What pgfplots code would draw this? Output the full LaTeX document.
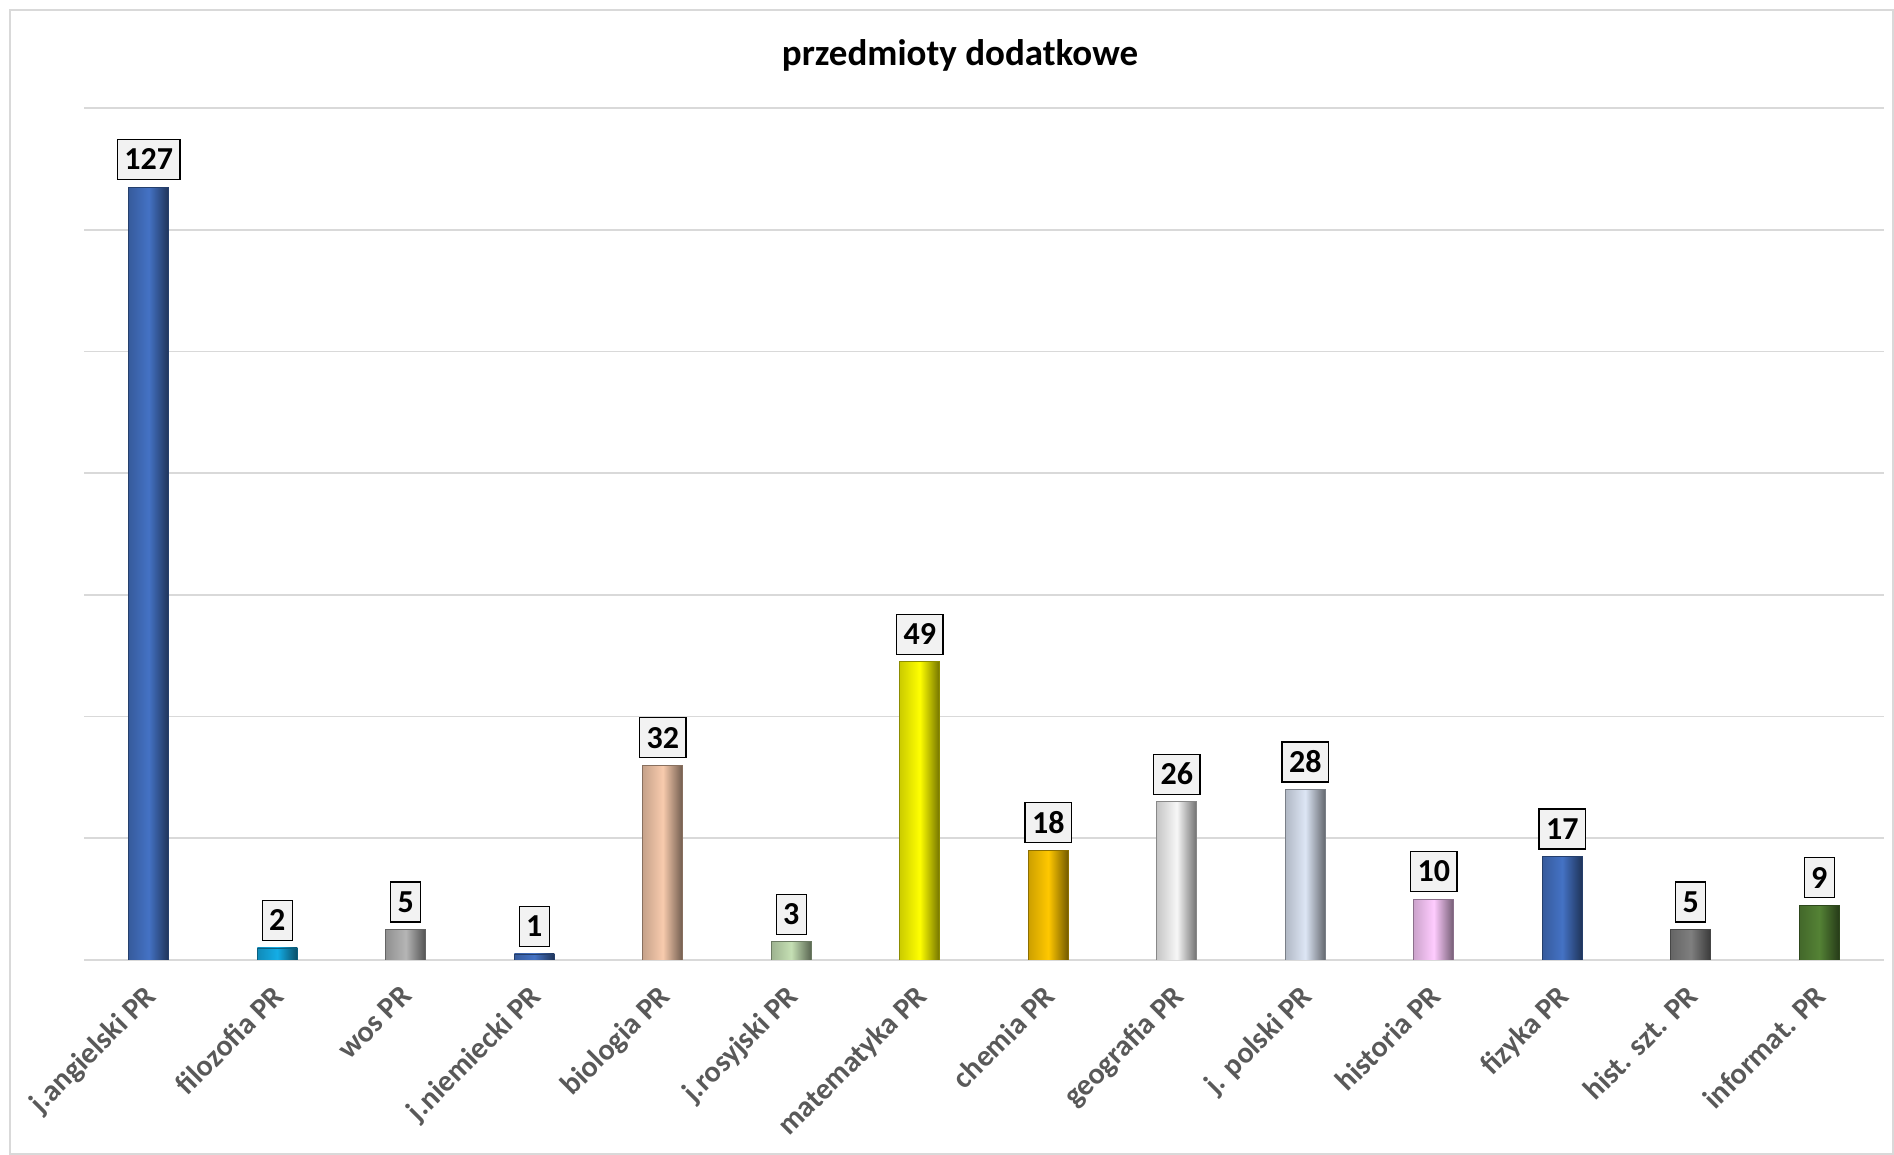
\documentclass[border=0pt]{standalone}
\usepackage{pgfplots}
\pgfplotsset{compat=1.18}
\usepackage{fontspec}
\setmainfont{Carlito}
\definecolor{c1}{HTML}{4472C4}
\definecolor{c2}{HTML}{14ADE6}
\definecolor{c3}{HTML}{B5B5B5}
\definecolor{c5}{HTML}{F8CBAD}
\definecolor{c6}{HTML}{C5E0B4}
\definecolor{c7}{HTML}{FFFF00}
\definecolor{c8}{HTML}{FFC800}
\definecolor{c9}{HTML}{F7F7F7}
\definecolor{c10}{HTML}{DDE6F5}
\definecolor{c11}{HTML}{FFCCFF}
\definecolor{c13}{HTML}{7F7F7F}
\definecolor{c14}{HTML}{548235}
\definecolor{gridc}{HTML}{D9D9D9}
\definecolor{labc}{HTML}{595959}
\definecolor{boxc}{HTML}{F2F2F2}
\newcommand\bevbar[3]{\addplot[draw=#1!55!black, line width=0.3pt, left color=#1!80!black, right color=#1!45!black, middle color=#1] coordinates {(#2,#3)};}
\begin{document}
\begin{tikzpicture}
\useasboundingbox (0,0) rectangle (947pt,577.5pt);
\draw[gridc, line width=0.8pt] (5pt,0.4pt) rectangle (946.6pt,572.5pt);
\node[font=\fontsize{18.5}{22}\selectfont\bfseries] at (480pt,550pt) {przedmioty dodatkowe};
\begin{axis}[
  at={(42.25pt,97.5pt)}, anchor=south west,
  scale only axis, width=899.5pt, height=426pt,
  xmin=-0.5, xmax=13.5, ymin=0, ymax=140,
  ybar, bar width=20pt, bar shift=0pt,
  axis line style={draw=none},
  major tick length=0pt,
  ytick={0,20,...,140}, yticklabels={},
  ymajorgrids, grid style={gridc, line width=0.8pt},
  xtick={0,...,13},
  xticklabels={j.angielski PR, filozofia PR, wos PR, j.niemiecki PR, biologia PR, j.rosyjski PR, matematyka PR, chemia PR, geografia PR, j. polski PR, historia PR, fizyka PR, hist. szt. PR, informat. PR},
  xticklabel style={xshift=-3.2pt, yshift=-6.7pt, rotate=45, anchor=north east, text=labc, font=\fontsize{15}{18}\selectfont\bfseries},
  nodes near coords,
  every node near coord/.append style={anchor=south, yshift=3.5pt, draw=black, line width=0.6pt, fill=boxc, text=black, font=\fontsize{16}{19}\selectfont\bfseries, inner xsep=3.5pt, minimum height=20pt},
  /pgf/number format/assume math mode=true,
]
\bevbar{c1}{0}{127}
\bevbar{c2}{1}{2}
\bevbar{c3}{2}{5}
\bevbar{c1}{3}{1}
\bevbar{c5}{4}{32}
\bevbar{c6}{5}{3}
\bevbar{c7}{6}{49}
\bevbar{c8}{7}{18}
\bevbar{c9}{8}{26}
\bevbar{c10}{9}{28}
\bevbar{c11}{10}{10}
\bevbar{c1}{11}{17}
\bevbar{c13}{12}{5}
\bevbar{c14}{13}{9}
\end{axis}
\end{tikzpicture}
\end{document}
